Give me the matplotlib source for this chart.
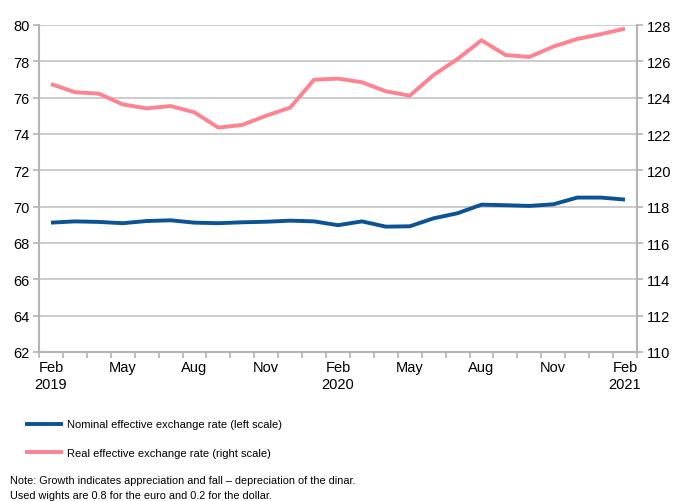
import matplotlib
matplotlib.use("Agg")
import matplotlib.pyplot as plt
import numpy as np

plt.rcParams['font.family'] = ['Liberation Sans', 'DejaVu Sans']

months = ["Feb\n2019", "", "", "May", "", "", "Aug", "", "", "Nov", "", "",
          "Feb\n2020", "", "", "May", "", "", "Aug", "", "", "Nov", "", "",
          "Feb\n2021"]
nominal = [69.12, 69.19, 69.16, 69.09, 69.21, 69.25, 69.12, 69.09, 69.14, 69.17,
           69.23, 69.19, 68.98, 69.19, 68.90, 68.92, 69.36, 69.64, 70.11, 70.08,
           70.04, 70.13, 70.50, 70.50, 70.39]
real = [124.75, 124.30, 124.22, 123.63, 123.41, 123.54, 123.19, 122.35, 122.50,
        123.01, 123.45, 124.99, 125.05, 124.85, 124.35, 124.11, 125.25, 126.13,
        127.16, 126.35, 126.24, 126.81, 127.23, 127.50, 127.80]
left_ticks = [62, 64, 66, 68, 70, 72, 74, 76, 78, 80]
right_ticks = [110, 112, 114, 116, 118, 120, 122, 124, 126, 128]

blue = "#0b5394"
pink = "#ff8290"
grid_c = "#c8c8c8"
spine_c = "#b4b4b4"

fig = plt.figure(figsize=(6.74, 5.02), dpi=100)
ax = fig.add_axes([39/674, 1-353/502, 598/674, 327/502])
ax2 = ax.twinx()

x = np.arange(len(months))
ax.set_xlim(-0.5, len(months) - 0.5)
ax.set_ylim(62, 80)
ax2.set_ylim(110, 128)
ax.set_yticks(left_ticks)
ax2.set_yticks(right_ticks)

for t in left_ticks:
    ax.axhline(t, color=grid_c, lw=1.3, zorder=0)

ln, = ax.plot(x, nominal, color=blue, lw=2.8, solid_capstyle='butt', zorder=3,
              label="Nominal effective exchange rate (left scale)")
lr, = ax2.plot(x, real, color=pink, lw=2.8, solid_capstyle='butt', zorder=3,
               label="Real effective exchange rate (right scale)")

ax.set_xticks(x)
ax.set_xticklabels(months)
ax.set_xticks(np.arange(-0.5, len(months)), minor=True)
ax.tick_params(axis='x', which='major', length=0, labelsize=10.5, pad=6)
ax.tick_params(axis='x', which='minor', length=4, color=spine_c, width=1.2, direction='out')
ax.tick_params(axis='y', length=4, color=spine_c, width=1.2, labelsize=10.5, pad=3)
ax2.tick_params(axis='y', length=4, color=spine_c, width=1.2, labelsize=10.5, pad=3)

for a in (ax, ax2):
    a.spines['top'].set_visible(False)
    for s in ('left', 'right', 'bottom'):
        a.spines[s].set_color(spine_c)
        a.spines[s].set_linewidth(1.5)
ax2.spines['left'].set_visible(False)
ax2.spines['bottom'].set_visible(False)
ax.spines['right'].set_visible(False)

fig.legend(handles=[ln, lr], loc='upper left', bbox_to_anchor=(21/674, 1-416/502),
           frameon=False, fontsize=8, handlelength=3.4, handletextpad=0.3,
           labelspacing=1.65, borderaxespad=0)

fig.text(10/674, 1-484/502, "Note: Growth indicates appreciation and fall \u2013 depreciation of the dinar.",
         fontsize=7.8, va='baseline', ha='left')
fig.text(10/674, 1-499/502, "Used wights are 0.8 for the euro and 0.2 for the dollar.",
         fontsize=7.8, va='baseline', ha='left')

fig.savefig("out.png", dpi=100)
